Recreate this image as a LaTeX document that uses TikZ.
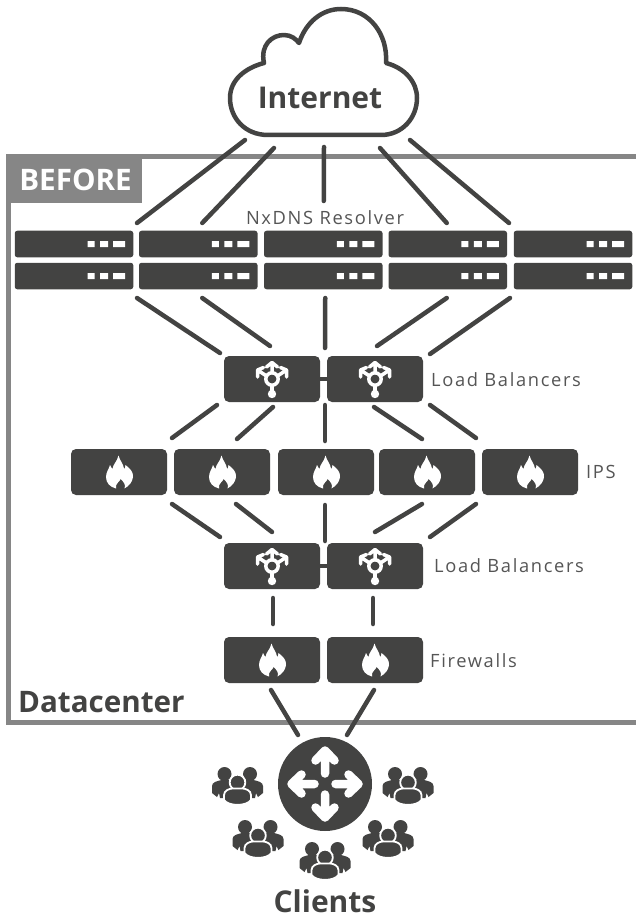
\documentclass[tikz,border=0pt]{standalone}
\usepackage{fontspec}
\setmainfont{Open Sans}
\newfontfamily\lblfont[LetterSpace=9]{Open Sans}
\definecolor{dk}{HTML}{434342}
\definecolor{gr}{HTML}{868686}
\definecolor{lb}{HTML}{555555}
\newcommand\lnk[6]{\draw[link] ([shift={(#2,#3)}]#1.center) -- ([shift={(#5,#6)}]#4.center);}
\tikzset{
  link/.style={draw=dk,line width=4.5pt,line cap=round},
  srvbox/.style={fill=dk,rounded corners=2.5pt,minimum width=118.5pt,minimum height=26.5pt,inner sep=0pt},
  devbox/.style={fill=dk,rounded corners=5pt,minimum width=96pt,minimum height=46pt,inner sep=0pt},
  lbl/.style={text=lb,font=\fontsize{18.3}{21}\selectfont\lblfont,inner sep=0pt,anchor=west},
  big/.style={text=dk,font=\fontsize{30}{34}\selectfont\bfseries,inner sep=0pt},
  lights/.pic={\fill[white] (13.5,-3) rectangle (20.5,3) (26,-3) rectangle (34,3) (39,-3) rectangle (51,3);},
  lbicon/.pic={
    \draw[white,line width=3.5pt] (0,0) circle[radius=6.2];
    \fill[white] (0,15) circle[radius=4.2];
    \draw[white,line width=3.5pt] (0,6) -- (0,15);
    \draw[white,line width=3.5pt,line join=round,line cap=round]
      (0,-6) -- (0,-16) (-5.5,-12) -- (0,-16.5) -- (5.5,-12)
      (-5.5,-3) -- (-13,-8) (-14.5,-2) -- (-14.5,-9) -- (-8.5,-11.5)
      (5.5,-3) -- (13,-8) (14.5,-2) -- (14.5,-9) -- (8.5,-11.5);
  },
  flame/.pic={
    \fill[white] (-0.5,-16.5) .. controls (1,-11) and (4,-9) .. (5,-3.5)
      .. controls (5.5,-2.5) and (6,-3.5) .. (6.5,-7)
      .. controls (11,-3.5) and (14.5,0) .. (14,5)
      .. controls (13.5,10) and (10,14) .. (5.5,16.5)
      .. controls (7,13) and (5,10) .. (1.5,7)
      .. controls (1,10) and (-4,11) .. (-3,16.5)
      .. controls (-9,15) and (-13,11) .. (-13,5)
      .. controls (-13,0) and (-10,-3) .. (-9,-7)
      .. controls (-8,-5) and (-7.5,-4) .. (-6.5,-3)
      .. controls (-6,-8) and (-2,-10) .. (-0.5,-16.5) -- cycle;
  },
  people/.pic={
    \fill[dk] (-13,-11) circle[radius=7] (12.5,-11) circle[radius=7];
    \fill[dk] (-25.5,8) -- (-25.5,1) .. controls (-25.5,-3) and (-20,-4) .. (-16,-5)
       -- (-7,-5) -- (-3,3) -- (-9,13) -- (-17.5,13) -- (-18.5,8) -- (-20.5,12) -- cycle;
    \fill[dk] (25.5,8) -- (25.5,1) .. controls (25.5,-3) and (20,-4) .. (16,-5)
       -- (7,-5) -- (3,3) -- (9,13) -- (17.5,13) -- (18.5,8) -- (20.5,12) -- cycle;
    \fill[dk,draw=white,line width=1.8pt] (0,-2.5) circle[radius=7.8];
    \fill[dk,draw=white,line width=1.8pt] (-13.5,15) -- (-13.5,10) .. controls (-13.5,5.5) and (-8,3.5) .. (-5,3.5)
       -- (5,3.5) .. controls (8,3.5) and (13.5,5.5) .. (13.5,10) -- (13.5,15)
       .. controls (9,21.5) and (-9,21.5) .. (-13.5,15) -- cycle;
  },
}
\begin{document}
\begin{tikzpicture}[x=1pt,y=-1pt]
\useasboundingbox (0,0) rectangle (636,917);
% datacenter frame
\draw[gr,line width=5pt] (636,157) -- (8.5,157) -- (8.5,722.5) -- (636,722.5);
\fill[gr] (6,155) rectangle (142,203);
% cloud
\draw[dk,line width=4.5pt,line join=round,fill=white] (268,135) .. controls (245,135) and (230,118) .. (230,98)
  .. controls (230,80) and (245,68) .. (264,63)
  .. controls (260,45) and (272,35) .. (284,35)
  .. controls (291,35) and (296,39) .. (299,43)
  .. controls (306,22) and (322,9) .. (341,9)
  .. controls (370,9) and (388,35) .. (386,63)
  .. controls (405,68) and (417,82) .. (417,98)
  .. controls (417,118) and (402,135) .. (381,135) -- cycle;
\node[big] (inet) at (320,98) {Internet};
\node[text=white,font=\fontsize{29.6}{34}\selectfont\bfseries,inner sep=0pt] (before) at (75.5,180) {BEFORE};
\node[text=dk,font=\fontsize{29.6}{34}\selectfont\bfseries,inner sep=0pt,anchor=west] (dc) at (18,702) {Datacenter};
\node[lbl,anchor=center] (res) at (325,218) {NxDNS Resolver};
% servers
\foreach \n/\x in {1/74,2/198.25,3/323.25,4/447.75,5/573}{
  \node[srvbox] (s1\n) at (\x,244) {};
  \node[srvbox] (s2\n) at (\x,276) {};
  \pic at (\x,244) {lights};
  \pic at (\x,276) {lights};
}
% load balancers, ips, firewalls
\foreach \nm/\x/\y in {lba/272/379,lbb/375/379,lcb/375/566,lca/272/566}{
  \node[devbox] (\nm) at (\x,\y) {};
  \pic at (\x,\y) {lbicon};
}
\foreach \nm/\x in {ips1/119,ips2/222,ips3/326,ips4/427,ips5/530}{
  \node[devbox] (\nm) at (\x,472) {};
  \pic at (\x,472) {flame};
}
\foreach \nm/\x in {fwa/272,fwb/375}{
  \node[devbox] (\nm) at (\x,660) {};
  \pic at (\x,660) {flame};
}
\node[lbl] (l1) at (431,380) {Load Balancers};
\node[lbl] (l2) at (586,472) {IPS};
\node[lbl] (l3) at (434,566) {Load Balancers};
\node[lbl] (l4) at (430,661) {Firewalls};
% router
\node[circle,fill=dk,minimum size=94pt,inner sep=0pt] (rtr) at (325,784) {};
\foreach \a in {0,90,180,270}{
  \draw[white,line width=8.5pt,line cap=round,line join=round,rotate around={\a:(325,784)}]
    (325,773.5) -- (325,750.5) (315.5,760.5) -- (325,750.5) -- (334.5,760.5);
}
% clients
\pic at (237.5,785) {people};
\pic at (408,785) {people};
\pic at (258,838) {people};
\pic at (388,838) {people};
\pic at (325,860) {people};
\node[big] (cl) at (325,901) {Clients};
% connectors
\lnk{inet}{-75}{42}{s11}{63}{-21}
\lnk{inet}{-46}{50}{s12}{4}{-21}
\lnk{inet}{4}{49}{s13}{0.5}{-43}
\lnk{inet}{60}{50}{s14}{-1}{-21}
\lnk{inet}{90}{42}{s15}{-64}{-21}
\lnk{s21}{63}{22}{lba}{-52}{-26}
\lnk{s22}{4}{22}{lba}{-2}{-33}
\lnk{s23}{2}{22}{lbb}{-50}{-31}
\lnk{s24}{-1}{22}{lbb}{2}{-33}
\lnk{s25}{-63}{22}{lbb}{55}{-25}
\draw[dk,line width=4pt] (lba.east) -- (lbb.west);
\lnk{lba}{-55}{26}{ips1}{53}{-34}
\lnk{lba}{1}{28}{ips2}{15}{-33}
\lnk{lbb}{-50}{26}{ips3}{-1}{-31}
\lnk{lbb}{-1}{28}{ips4}{-5}{-33}
\lnk{lbb}{55}{26}{ips5}{-54}{-34}
\lnk{ips1}{53}{32}{lca}{-52}{-29}
\lnk{ips2}{14}{32}{lca}{0}{-34}
\lnk{ips3}{-1}{33}{lcb}{-50}{-25}
\lnk{ips4}{-5}{32}{lcb}{0}{-34}
\lnk{ips5}{-54}{32}{lcb}{55}{-29}
\draw[dk,line width=4pt] (lca.east) -- (lcb.west);
\lnk{lca}{1}{32}{fwa}{1}{-36}
\lnk{lcb}{-2}{32}{fwb}{-2}{-36}
\lnk{fwa}{-1}{30}{rtr}{-27}{-49}
\lnk{fwb}{-1}{30}{rtr}{22}{-49}
\end{tikzpicture}
\end{document}
